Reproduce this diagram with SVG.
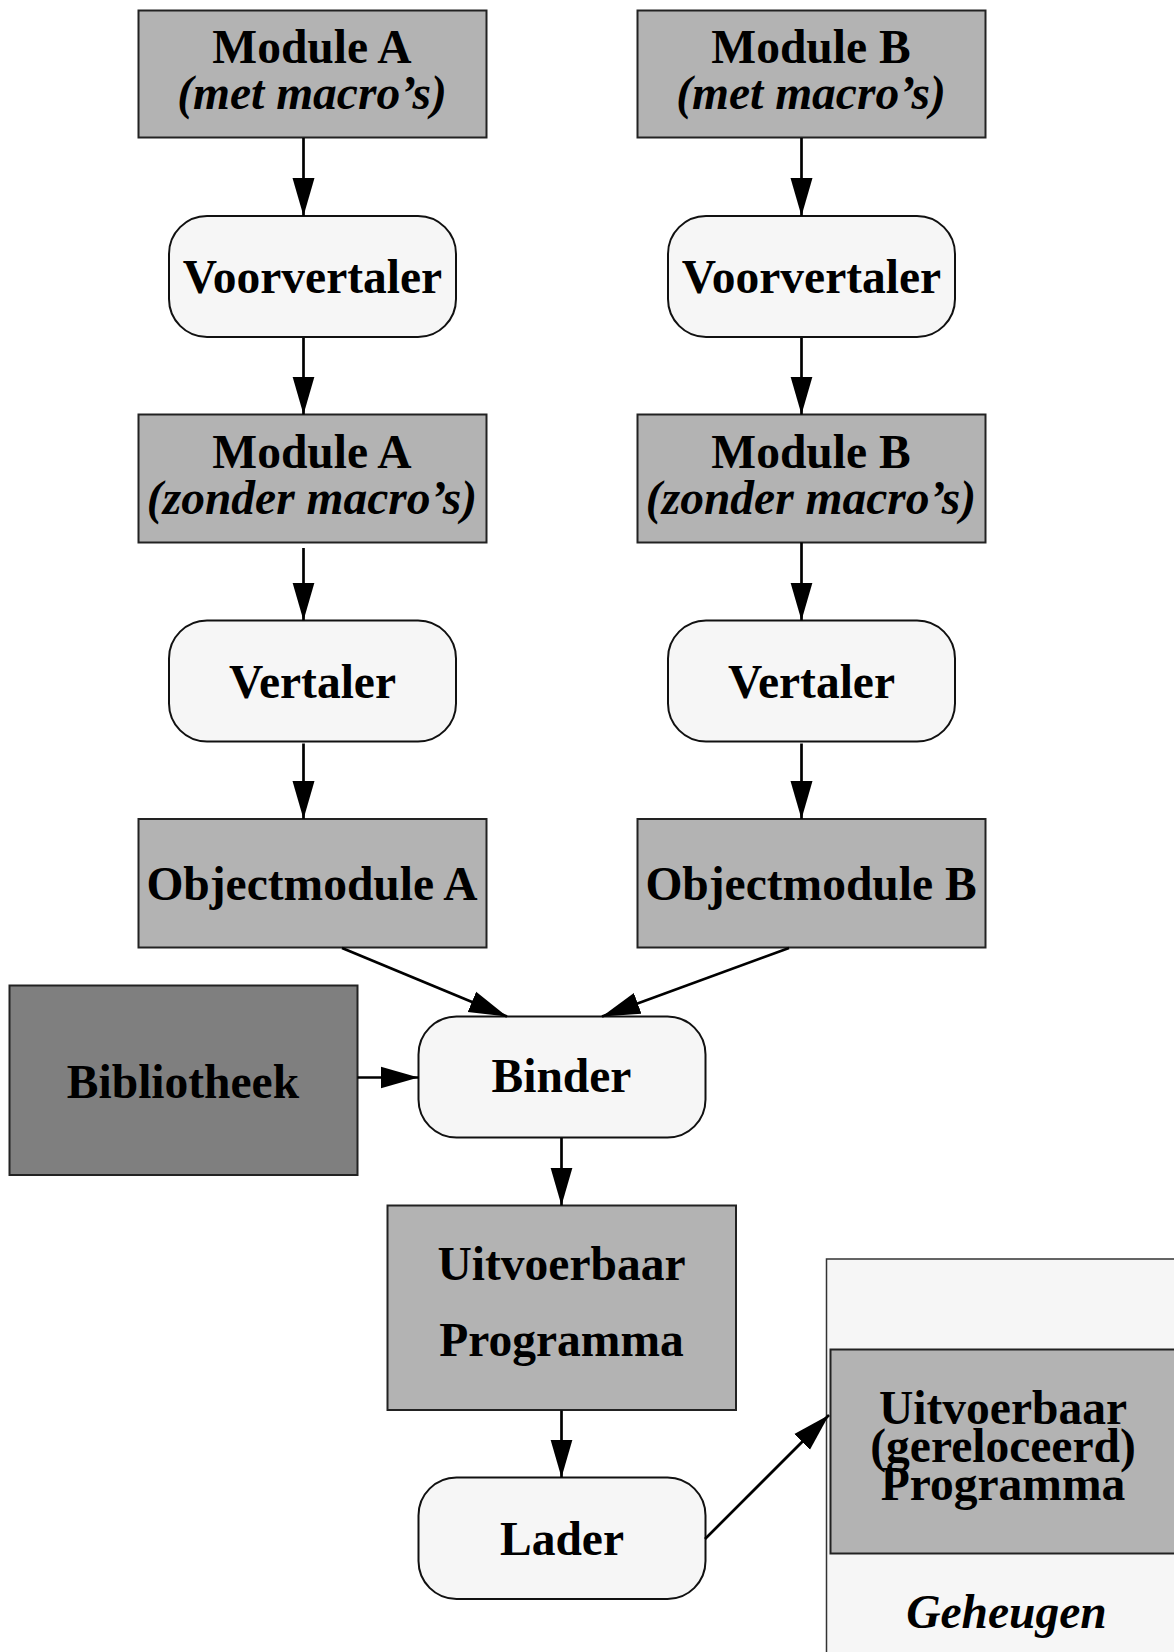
<svg xmlns="http://www.w3.org/2000/svg" width="1174" height="1652" viewBox="0 0 1174 1652">
  <defs>
    <marker id="head" markerUnits="userSpaceOnUse" markerWidth="40" markerHeight="24" viewBox="0 -12 40 24" refX="38" refY="0" orient="auto">
      <path d="M0,-11 L38,0 L0,11 z" fill="#000"/>
    </marker>
  </defs>
  <style>
    .box { fill: #b3b3b3; stroke: #222; stroke-width: 2; }
    .dark { fill: #7f7f7f; stroke: #222; stroke-width: 2; }
    .proc { fill: #f6f6f6; stroke: #111; stroke-width: 2; }
    .mem { fill: #f6f6f6; stroke: #333; stroke-width: 1.5; }
    text { font-family: "Liberation Serif", "Times New Roman", serif; font-weight: bold; font-size: 47.5px; fill: #000; text-anchor: middle; }
    .it { font-style: italic; }
    .conn line { stroke: #000; stroke-width: 2.7; fill: none; marker-end: url(#head); }
  </style>

  <rect width="1174" height="1652" fill="#fff"/>

  <!-- memory area with the relocated program -->
  <g id="geheugen">
    <rect class="mem" x="826.5" y="1259" width="360" height="420"/>
    <text class="it" x="1006.5" y="1628">Geheugen</text>
  </g>
  <g id="uitvoerbaar-gereloceerd">
    <rect class="box" x="830.5" y="1349.5" width="360" height="204"/>
    <text x="1003" y="1424">Uitvoerbaar</text>
    <text x="1003" y="1461.5">(gereloceerd)</text>
    <text x="1003" y="1500">Programma</text>
  </g>

  <!-- column A -->
  <g id="module-a-met">
    <rect class="box" x="138.5" y="10.5" width="348" height="127"/>
    <text x="312" y="62.5">Module A</text>
    <text class="it" x="312" y="108.5">(met macro’s)</text>
  </g>
  <g id="voorvertaler-a">
    <rect class="proc" x="169" y="216" width="287" height="121" rx="38" ry="38"/>
    <text x="312.5" y="292.5">Voorvertaler</text>
  </g>
  <g id="module-a-zonder">
    <rect class="box" x="138.5" y="414.5" width="348" height="128"/>
    <text x="312" y="467.5">Module A</text>
    <text class="it" x="312" y="513.5">(zonder macro’s)</text>
  </g>
  <g id="vertaler-a">
    <rect class="proc" x="169" y="620.5" width="287" height="121" rx="38" ry="38"/>
    <text x="312.5" y="698">Vertaler</text>
  </g>
  <g id="objectmodule-a">
    <rect class="box" x="138.5" y="819" width="348" height="128.5"/>
    <text x="312" y="900">Objectmodule A</text>
  </g>

  <!-- column B -->
  <g id="module-b-met">
    <rect class="box" x="637.5" y="10.5" width="348" height="127"/>
    <text x="811" y="62.5">Module B</text>
    <text class="it" x="811" y="108.5">(met macro’s)</text>
  </g>
  <g id="voorvertaler-b">
    <rect class="proc" x="668" y="216" width="287" height="121" rx="38" ry="38"/>
    <text x="811.5" y="292.5">Voorvertaler</text>
  </g>
  <g id="module-b-zonder">
    <rect class="box" x="637.5" y="414.5" width="348" height="128"/>
    <text x="811" y="467.5">Module B</text>
    <text class="it" x="811" y="513.5">(zonder macro’s)</text>
  </g>
  <g id="vertaler-b">
    <rect class="proc" x="668" y="620.5" width="287" height="121" rx="38" ry="38"/>
    <text x="811.5" y="698">Vertaler</text>
  </g>
  <g id="objectmodule-b">
    <rect class="box" x="637.5" y="819" width="348" height="128.5"/>
    <text x="811" y="900">Objectmodule B</text>
  </g>

  <!-- linking and loading -->
  <g id="bibliotheek">
    <rect class="dark" x="9.5" y="985.5" width="348" height="189.5"/>
    <text x="183" y="1098">Bibliotheek</text>
  </g>
  <g id="binder">
    <rect class="proc" x="418.5" y="1016.5" width="287" height="121" rx="38" ry="38"/>
    <text x="561.5" y="1092">Binder</text>
  </g>
  <g id="uitvoerbaar-programma">
    <rect class="box" x="387.5" y="1205.5" width="348.5" height="204.5"/>
    <text x="561.5" y="1280">Uitvoerbaar</text>
    <text x="561.5" y="1356">Programma</text>
  </g>
  <g id="lader">
    <rect class="proc" x="418.5" y="1477.5" width="287" height="121.5" rx="38" ry="38"/>
    <text x="562" y="1555">Lader</text>
  </g>

  <!-- connectors -->
  <g class="conn" id="connectors">
    <line x1="303.5" y1="138" x2="303.5" y2="216"/>
    <line x1="303.5" y1="338" x2="303.5" y2="414.5"/>
    <line x1="303.5" y1="548" x2="303.5" y2="620.5"/>
    <line x1="303.5" y1="743.5" x2="303.5" y2="819"/>

    <line x1="801.5" y1="138" x2="801.5" y2="216"/>
    <line x1="801.5" y1="338" x2="801.5" y2="414.5"/>
    <line x1="801.5" y1="542.5" x2="801.5" y2="620.5"/>
    <line x1="801.5" y1="743.5" x2="801.5" y2="819"/>

    <line x1="342" y1="948" x2="507" y2="1016.5"/>
    <line x1="789" y1="948" x2="602" y2="1016.5"/>
    <line x1="357.5" y1="1077.5" x2="418.5" y2="1077.5"/>
    <line x1="561.5" y1="1138" x2="561.5" y2="1205.5"/>
    <line x1="561.5" y1="1410.5" x2="561.5" y2="1477.5"/>
    <line x1="705" y1="1539" x2="829" y2="1415"/>
  </g>
</svg>
